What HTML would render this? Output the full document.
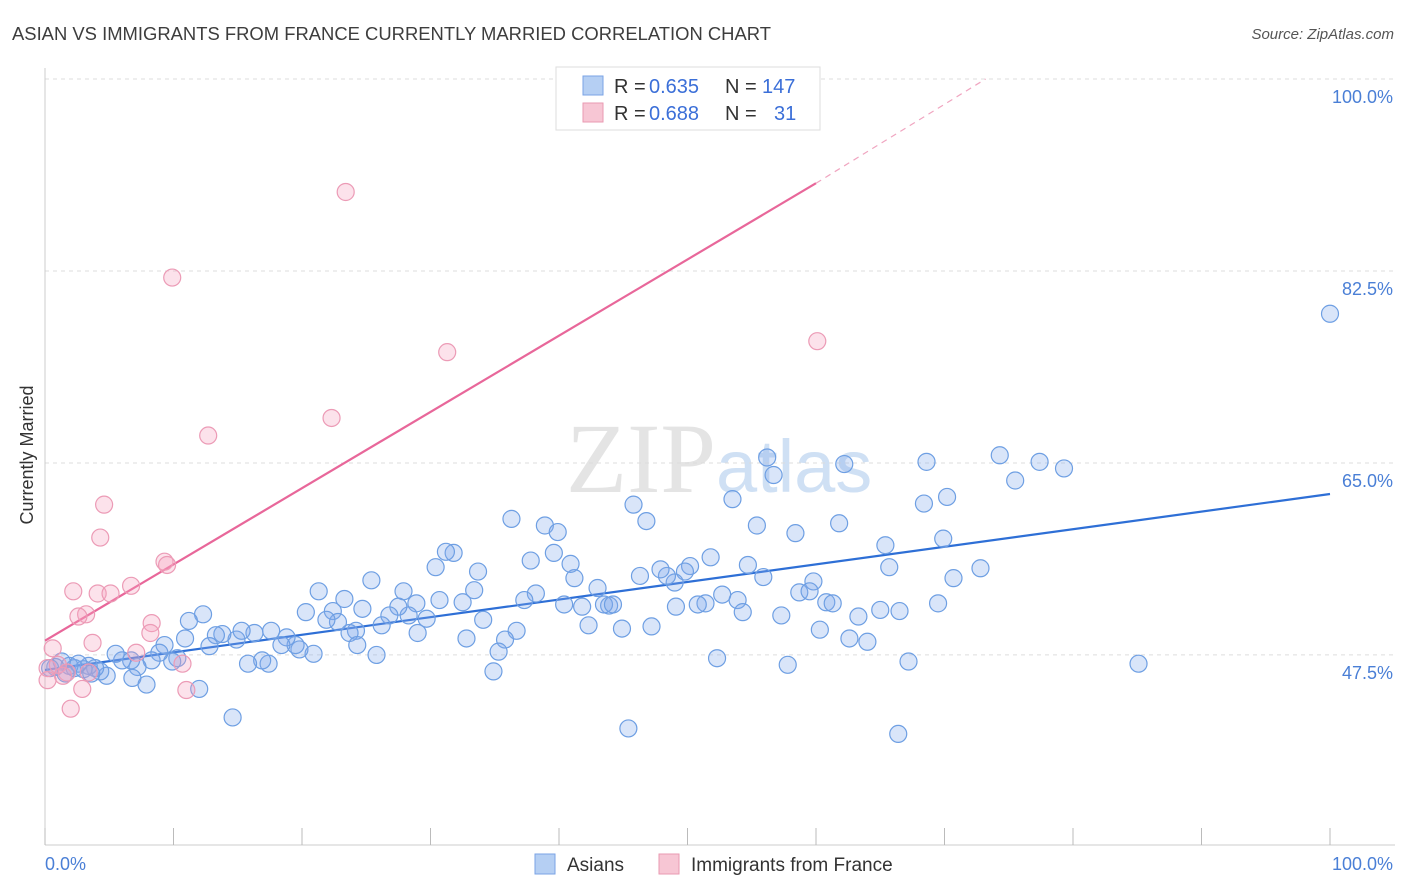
<!DOCTYPE html>
<html><head><meta charset="utf-8"><style>
body{margin:0;background:#fff;font-family:"Liberation Sans",sans-serif;}
svg{display:block}
</style></head><body>
<svg width="1406" height="892" xmlns="http://www.w3.org/2000/svg">
<text x="12" y="40" font-size="18" fill="#3d3d3d" textLength="759" lengthAdjust="spacingAndGlyphs">ASIAN VS IMMIGRANTS FROM FRANCE CURRENTLY MARRIED CORRELATION CHART</text>
<text x="1394" y="39" font-size="15" fill="#555" font-style="italic" text-anchor="end">Source: ZipAtlas.com</text>
<text x="716" y="492" font-size="100" fill="#e4e4e4" font-family="Liberation Serif,serif" text-anchor="end">ZIP</text>
<text x="716" y="492" font-size="74" fill="#cfe0f4">atlas</text>
<g id="grid"></g>
<line x1="45" y1="68" x2="45" y2="845" stroke="#ccc"/>
<line x1="45" y1="845" x2="1395" y2="845" stroke="#ccc"/>
<g id="ticks"></g>
<text x="33" y="455" font-size="18" fill="#333" text-anchor="middle" transform="rotate(-90 33 455)">Currently Married</text>
<text x="45" y="870" font-size="18" fill="#4a7fd6">0.0%</text>
<text x="1393" y="870" font-size="18" fill="#4a7fd6" text-anchor="end">100.0%</text>
<g id="lines"></g>
<g id="points"></g>
<g>
<rect x="556" y="67" width="264" height="63" fill="#fff" stroke="#ddd"/>
<rect x="583" y="76" width="20" height="19" fill="#b5cff3" stroke="#7aa3e6"/>
<rect x="583" y="103" width="20" height="19" fill="#f7c6d4" stroke="#ea9ab2"/>
<text x="614" y="93" font-size="20" fill="#333">R =</text>
<text x="649" y="93" font-size="20" fill="#3b6fd8">0.635</text>
<text x="725" y="93" font-size="20" fill="#333">N =</text>
<text x="762" y="93" font-size="20" fill="#3b6fd8">147</text>
<text x="614" y="120" font-size="20" fill="#333">R =</text>
<text x="649" y="120" font-size="20" fill="#3b6fd8">0.688</text>
<text x="725" y="120" font-size="20" fill="#333">N =</text>
<text x="774" y="120" font-size="20" fill="#3b6fd8">31</text>
</g>
<g>
<rect x="535" y="854" width="20" height="20" fill="#b5cff3" stroke="#7aa3e6"/>
<text x="567" y="871" font-size="19" fill="#333">Asians</text>
<rect x="659" y="854" width="20" height="20" fill="#f7c6d4" stroke="#ea9ab2"/>
<text x="691" y="871" font-size="19" fill="#333">Immigrants from France</text>
</g>
</svg>
<script>
const yTicks=[100,82.5,65,47.5];
const yTickLabels=["100.0%","82.5%","65.0%","47.5%"];
const xTicks=[0,10,20,30,40,50,60,70,80,90,100];
const blueX=[100,85.1,74.3,77.4,79.3,75.5,68.6,70.2,68.4,69.9,70.7,72.8,69.5,65.4,65.7,65.0,66.5,63.3,62.6,64.0,67.2,66.4,62.2,61.8,59.8,58.7,59.5,60.8,61.3,60.3,57.8,56.2,56.7,53.5,55.4,58.4,54.7,55.9,53.9,54.3,57.3,52.7,51.4,50.8,52.3,51.8,50.2,49.8,49.0,48.4,47.9,49.1,46.3,47.2,45.8,46.8,45.4,44.9,43.9,43.5,44.2,42.3,43.0,41.2,41.8,40.9,40.4,38.9,39.9,39.6,37.8,36.3,38.2,37.3,36.7,35.8,35.3,34.9,32.8,34.1,33.7,33.4,32.5,30.7,31.8,31.2,30.4,29.7,29.0,28.9,28.3,27.9,27.5,26.8,26.2,25.8,25.4,24.7,24.2,23.7,24.3,23.3,22.4,22.8,21.9,21.3,20.3,20.9,19.8,19.5,18.8,18.4,17.4,16.9,17.6,16.3,15.8,14.9,15.3,13.8,13.3,12.8,14.6,12.3,11.2,10.9,12.0,10.3,9.9,9.3,8.9,8.3,7.2,6.7,6.0,5.5,6.8,7.9,4.8,4.3,3.9,3.4,3.0,2.3,1.9,1.3,0.8,0.4,1.6,2.6,3.6];
const blueY=[78.6,46.7,65.7,65.1,64.5,63.4,65.1,61.9,61.3,58.1,54.5,55.4,52.2,57.5,55.5,51.6,51.5,51.0,49.0,48.7,46.9,40.3,64.9,59.5,54.2,53.2,53.3,52.3,52.2,49.8,46.6,65.5,63.9,61.7,59.3,58.6,55.7,54.6,52.5,51.4,51.1,53.0,52.2,52.1,47.2,56.4,55.6,55.1,54.1,54.7,55.3,51.9,54.7,50.1,61.2,59.7,40.8,49.9,52.0,52.1,52.1,50.2,53.6,54.5,51.9,55.8,52.1,59.3,58.7,56.8,56.1,59.9,53.1,52.5,49.7,48.9,47.8,46.0,49.0,50.7,55.1,53.4,52.3,52.5,56.8,56.9,55.5,50.8,49.5,52.2,51.1,53.3,51.9,51.1,50.2,47.5,54.3,51.7,49.7,49.5,48.4,52.6,51.5,50.5,50.7,53.3,51.4,47.6,48.0,48.4,49.1,48.4,46.7,47.0,49.7,49.5,46.7,48.9,49.7,49.4,49.3,48.3,41.8,51.2,50.6,49.0,44.4,47.2,46.9,48.4,47.7,47.0,46.4,47.0,47.0,47.6,45.4,44.8,45.6,46.0,46.3,46.5,46.2,46.3,46.5,46.9,46.4,46.3,45.8,46.7,45.8];
const pinkX=[23.4,9.9,31.3,60.1,22.3,12.7,4.6,4.3,9.3,9.5,6.7,2.2,4.1,5.1,3.2,2.6,8.3,8.2,3.7,7.1,0.6,0.2,1.0,1.7,10.7,2.9,11.0,2.0,1.4,3.4,0.2];
const pinkY=[89.7,81.9,75.1,76.1,69.1,67.5,61.2,58.2,56.0,55.7,53.8,53.3,53.1,53.1,51.2,51.0,50.4,49.5,48.6,47.7,48.1,46.3,46.6,45.9,46.7,44.4,44.3,42.6,45.6,45.9,45.2];
const blueLine=[[0,46.13],[100,62.17]];
const pinkLine=[[0,48.8],[60,90.5]];
const pinkDash=[[60,90.5],[73.2,100]];
const NS="http://www.w3.org/2000/svg";
const X=v=>45+v*12.85;
const Y=v=>79+(100-v)*10.97;
function mk(t,a,p){const e=document.createElementNS(NS,t);for(const k in a)e.setAttribute(k,a[k]);p.appendChild(e);return e;}
const grid=document.getElementById('grid');
yTicks.forEach((v,i)=>{
 const l=mk('line',{x1:45,x2:1395,y1:Y(v),y2:Y(v),stroke:'#ddd','stroke-dasharray':'4,4'},grid);
 
 
 const t=mk('text',{x:1393,y:Y(v)+24,'font-size':18,fill:'#4a7fd6','text-anchor':'end'},grid);
 t.textContent=yTickLabels[i];
 
 
});
const tk=document.getElementById('ticks');
xTicks.forEach(v=>{
 const l=mk('line',{x1:X(v),x2:X(v),y1:828,y2:845,stroke:'#bbb'},tk);
 
 
});
const pts=document.getElementById('points');
blueX.forEach((v,i)=>{
 const c=mk('circle',{cx:X(v),cy:Y(blueY[i]),r:8.5,fill:'rgba(130,170,235,0.3)',stroke:'#6e9fe3','stroke-width':1.2},pts);
 
 
});
pinkX.forEach((v,i)=>{
 const c=mk('circle',{cx:X(v),cy:Y(pinkY[i]),r:8.5,fill:'rgba(245,160,190,0.3)',stroke:'#ec9bb6','stroke-width':1.2},pts);
 
 
});
const ln=document.getElementById('lines');
const b=mk('line',{x1:X(blueLine[0][0]),y1:Y(blueLine[0][1]),x2:X(blueLine[1][0]),y2:Y(blueLine[1][1]),stroke:'#2e6fd6','stroke-width':2.2},ln);


const p=mk('line',{x1:X(pinkLine[0][0]),y1:Y(pinkLine[0][1]),x2:X(pinkLine[1][0]),y2:Y(pinkLine[1][1]),stroke:'#e8679a','stroke-width':2.2},ln);


const d=mk('line',{x1:X(pinkDash[0][0]),y1:Y(pinkDash[0][1]),x2:X(pinkDash[1][0]),y2:Y(pinkDash[1][1]),stroke:'#f0a5c0','stroke-width':1.2,'stroke-dasharray':'6,5'},ln);


</script>
</body></html>
